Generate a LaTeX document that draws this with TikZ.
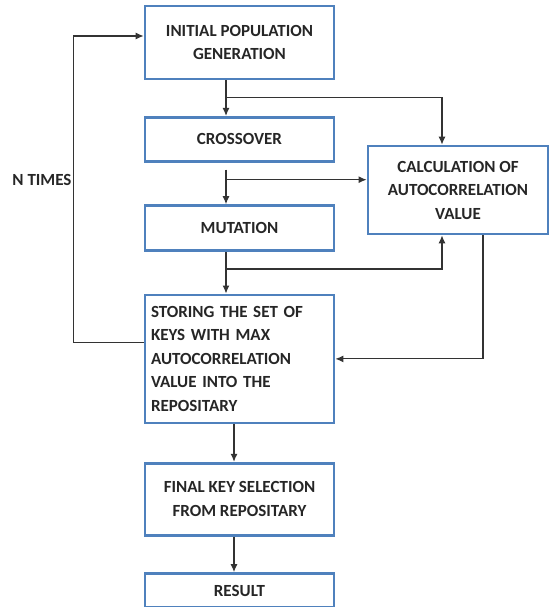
\documentclass[tikz,border=0pt]{standalone}
\usepackage{fontspec}
\setmainfont{Carlito}
\usetikzlibrary{positioning, calc, arrows.meta}

\definecolor{boxblue}{RGB}{79,129,189}

\begin{document}
\begin{tikzpicture}[
        x=1pt, y=1pt,
        box/.style={
            rectangle, draw=boxblue, line width=2.8pt, align=center,
            minimum width=189pt, text=black!85,
            font=\bfseries\fontsize{17}{23.5}\selectfont
        },
        flow/.style={line width=1.1pt, draw=black!80, ->},
        >={Latex[length=8pt,width=7pt]},
    ]
    \useasboundingbox (0,0) rectangle (550,-607);

    % Main column
    \node [box, minimum height=73pt] (init) at (239.5,-42.5) {INITIAL POPULATION\\GENERATION};
    \node [box, minimum height=44pt, below=35.5pt of init] (cross) {CROSSOVER};
    \node [box, minimum height=45pt, below=41.5pt of cross] (mut) {MUTATION};
    \node [box, minimum height=128pt, below=41.5pt of mut, text width=177pt, align=left] (store)
        {STORING THE SET OF\\KEYS WITH MAX\\AUTOCORRELATION\\VALUE INTO THE\\REPOSITARY};
    \node [box, minimum height=72pt, below=37.5pt of store] (final) {FINAL KEY SELECTION\\FROM REPOSITARY};
    \node [box, minimum height=34pt, below=35.5pt of final] (result) {RESULT};

    % Side blocks
    \node [box, minimum width=180pt, minimum height=88pt] (calc) at (458,-190)
        {CALCULATION OF\\AUTOCORRELATION\\VALUE};
    \node [font=\bfseries\fontsize{17}{20}\selectfont, text=black!85] (ntimes) at (42,-180) {N TIMES};

    % Arrows
    \coordinate (j1) at ($(init.south)+(-13.5,0)$);
    \draw [flow] (j1) -- (j1 |- cross.north);
    \draw [flow] ($(j1)+(0,-17)$) -| ($(calc.north)+(-16,0)$);

    \coordinate (j2) at ($(cross.south)+(-13.5,-7)$);
    \coordinate (j2b) at ($(j2)+(0,-10)$);
    \draw [flow] (j2) -- (j2 |- mut.north);
    \draw [flow] (j2b) -- (j2b -| calc.west);

    \coordinate (j3) at ($(mut.south)+(-13.5,0)$);
    \draw [flow] (j3) -- (j3 |- store.north);
    \draw [flow] ($(j3)+(0,-17)$) -| ($(calc.south)+(-16,0)$);

    \draw [flow] ($(calc.south)+(25,0)$) |- (store.east);
    \draw [flow] ($(store.west)+(0,16)$) -- ++(-70,0) |- ($(init.west)+(0,6.5)$);

    \draw [flow] ([xshift=-5.5pt]store.south) -- ([xshift=-5.5pt]final.north);
    \draw [flow] ([xshift=-5.5pt]final.south) -- ([xshift=-5.5pt]result.north);
\end{tikzpicture}
\end{document}
